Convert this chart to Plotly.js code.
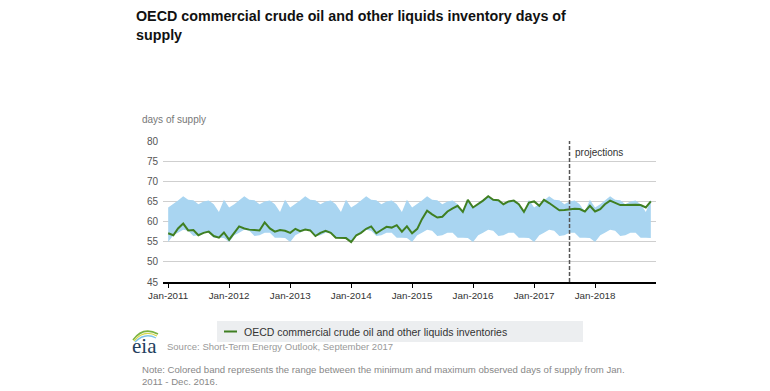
<!DOCTYPE html>
<html>
<head>
<meta charset="utf-8">
<script src="https://cdn.plot.ly/plotly-3.0.1.min.js"></script>
<style>
  html, body { margin: 0; padding: 0; background: #fff; }
  #chart { width: 770px; height: 391px; }
</style>
</head>
<body>
<div id="chart"></div>
<script>
// ---- Data (monthly, Jan 2011 - Dec 2018), days of supply ----
const startYear = 2011;
const endYear = 2018;

const inventory2011 = [57.1, 56.6, 58.3, 59.5, 57.8, 57.9, 56.6, 57.2, 57.5, 56.4, 56.0, 57.3];
const inventory2012 = [55.5, 57.2, 58.8, 58.3, 58.0, 57.9, 57.8, 59.8, 58.3, 57.5, 57.9, 57.7];
const inventory2013 = [57.2, 58.2, 57.6, 58.0, 57.8, 56.4, 57.2, 57.7, 57.2, 56.0, 56.0, 55.9];
const inventory2014 = [54.9, 56.6, 57.2, 58.2, 58.8, 57.1, 57.9, 58.7, 58.5, 59.1, 57.5, 58.8];
const inventory2015 = [57.1, 58.2, 60.6, 62.7, 61.8, 61.0, 61.2, 62.5, 63.3, 63.9, 62.4, 65.4];
const inventory2016 = [63.5, 64.3, 65.2, 66.3, 65.4, 65.3, 64.3, 65.0, 65.2, 64.3, 62.4, 64.7];
const inventory2017 = [65.0, 63.9, 65.4, 64.6, 63.7, 62.8, 62.9, 63.0, 63.2, 63.1, 62.5, 63.9];
const inventory2018 = [62.5, 63.1, 64.3, 65.2, 64.6, 64.1, 64.1, 64.2, 64.2, 64.1, 63.5, 65.0];

// Range of observed days of supply by calendar month (Jan 2011 - Dec 2016)
const bandMinByMonth = [54.9, 56.6, 57.2, 58.0, 57.7, 56.4, 56.6, 57.2, 57.2, 56.0, 56.0, 55.9];
const bandMaxByMonth = [63.5, 64.3, 65.2, 66.3, 65.4, 65.3, 64.3, 65.0, 65.2, 64.3, 62.4, 65.4];

const tickYears = [2011, 2012, 2013, 2014, 2015, 2016, 2017, 2018];
const tickLabels = ['Jan-2011', 'Jan-2012', 'Jan-2013', 'Jan-2014', 'Jan-2015', 'Jan-2016', 'Jan-2017', 'Jan-2018'];

const projectionStart = '2017-08-01';
const seriesName = 'OECD commercial crude oil and other liquids inventories';
const titleText = 'OECD commercial crude oil and other liquids inventory days of<br>supply';
const unitLabel = 'days of supply';
const sourceText = 'Source: Short-Term Energy Outlook, September 2017';
const noteText = 'Note: Colored band represents the range between the minimum and maximum observed days of supply from Jan.<br>2011 - Dec. 2016.';

// ---- Build traces ----
const inventory = [].concat(inventory2011, inventory2012, inventory2013, inventory2014,
                            inventory2015, inventory2016, inventory2017, inventory2018);
const months = [];
const bandMin = [];
const bandMax = [];
for (let y = startYear; y <= endYear; y++) {
  for (let m = 0; m < 12; m++) {
    months.push(y + '-' + String(m + 1).padStart(2, '0') + '-01');
    bandMin.push(bandMinByMonth[m]);
    bandMax.push(bandMaxByMonth[m]);
  }
}
const tickVals = tickYears.map(y => y + '-01-01');

const GREEN = '#3f7f22';
const BAND = '#a9d5f1';

const traces = [
  { x: months, y: bandMin, type: 'scatter', mode: 'lines', line: { width: 0, color: BAND },
    showlegend: false, hoverinfo: 'skip' },
  { x: months, y: bandMax, type: 'scatter', mode: 'lines', line: { width: 0, color: BAND },
    fill: 'tonexty', fillcolor: BAND, showlegend: false, hoverinfo: 'skip' },
  { x: months, y: inventory, type: 'scatter', mode: 'lines', name: seriesName,
    line: { color: GREEN, width: 2 }, showlegend: false }
];

// pixel -> paper helpers (plot area: x 163..656, y 141..282)
const L = 163, R = 656, T = 141, B = 282;
const px = v => (v - L) / (R - L);
const py = v => (B - v) / (B - T);
function arc(x0, y0, cx, cy, x1, y1) {
  return 'M' + px(x0) + ',' + py(y0) + ' Q' + px(cx) + ',' + py(cy) + ' ' + px(x1) + ',' + py(y1);
}

const FONT = 'Liberation Sans, Arial, Helvetica, sans-serif';

const layout = {
  width: 770, height: 391,
  margin: { l: L, r: 770 - R, t: T, b: 391 - B, pad: 0 },
  paper_bgcolor: '#ffffff', plot_bgcolor: '#ffffff',
  font: { family: FONT, color: '#333' },
  showlegend: false,
  title: {
    text: '<b>' + titleText + '</b>',
    xref: 'container', yref: 'container',
    x: 136 / 770, xanchor: 'left',
    y: 1 - 21 / 391, yanchor: 'top',
    font: { family: FONT, size: 14.3, color: '#111' }
  },
  xaxis: {
    type: 'date',
    range: ['2010-12-01', '2019-01-01'],
    tickmode: 'array', tickvals: tickVals, ticktext: tickLabels,
    showgrid: false, zeroline: false,
    showline: true, linecolor: '#000', linewidth: 1.5,
    ticks: 'outside', ticklen: 4, tickcolor: '#000', tickwidth: 1,
    tickfont: { family: FONT, size: 9.8, color: '#333' },
    fixedrange: true
  },
  yaxis: {
    range: [45, 80], dtick: 5, tick0: 45,
    showgrid: true, gridcolor: '#cfcfcf', gridwidth: 1,
    zeroline: false, showline: false, ticks: '',
    ticklabelstandoff: 4,
    tickfont: { family: FONT, size: 10, color: '#555' },
    fixedrange: true
  },
  shapes: [
    { type: 'line', xref: 'x', yref: 'paper', x0: projectionStart, x1: projectionStart, y0: 0, y1: 1,
      line: { color: '#555', width: 1.5, dash: '4px,2px' } },
    // legend background
    { type: 'rect', xref: 'paper', yref: 'paper', x0: px(217), x1: px(583), y0: py(342), y1: py(321),
      fillcolor: '#eceef0', line: { width: 0 }, layer: 'below' },
    // legend sample
    { type: 'line', xref: 'paper', yref: 'paper', x0: px(224), x1: px(237), y0: py(331.5), y1: py(331.5),
      line: { color: GREEN, width: 2 } },
    // eia logo swooshes
    { type: 'path', xref: 'paper', yref: 'paper', path: arc(133, 340, 143, 326, 158, 334),
      line: { color: '#7cb342', width: 1.6 } },
    { type: 'path', xref: 'paper', yref: 'paper', path: arc(134, 341, 144, 329, 157, 336),
      line: { color: '#d4d84a', width: 1.3 } },
    { type: 'path', xref: 'paper', yref: 'paper', path: arc(135, 342, 145, 332, 156, 338),
      line: { color: '#7fc4e8', width: 1.3 } }
  ],
  annotations: [
    { text: unitLabel, xref: 'paper', yref: 'paper', x: px(140), y: py(120),
      xanchor: 'left', yanchor: 'middle', showarrow: false,
      font: { family: FONT, size: 10, color: '#777' } },
    { text: 'projections', xref: 'x', yref: 'y', x: projectionStart, y: 77.1,
      xanchor: 'left', yanchor: 'middle', xshift: 3, showarrow: false,
      font: { family: FONT, size: 10, color: '#333' } },
    { text: seriesName, xref: 'paper', yref: 'paper', x: px(242), y: py(331.5),
      xanchor: 'left', yanchor: 'middle', showarrow: false,
      font: { family: FONT, size: 10.5, color: '#333' } },
    { text: 'eia', xref: 'paper', yref: 'paper', x: px(144), y: py(346),
      xanchor: 'center', yanchor: 'middle', showarrow: false,
      font: { family: 'Liberation Serif, DejaVu Serif, serif', size: 21, color: '#23405e' } },
    { text: sourceText, xref: 'paper', yref: 'paper', x: px(165), y: py(346),
      xanchor: 'left', yanchor: 'middle', showarrow: false,
      font: { family: FONT, size: 9.5, color: '#999' } },
    { text: noteText, xref: 'paper', yref: 'paper', x: px(140), y: py(362),
      xanchor: 'left', yanchor: 'top', align: 'left', showarrow: false,
      font: { family: FONT, size: 9.6, color: '#888' } }
  ]
};

Plotly.newPlot('chart', traces, layout, { staticPlot: true, displayModeBar: false });
</script>
</body>
</html>
